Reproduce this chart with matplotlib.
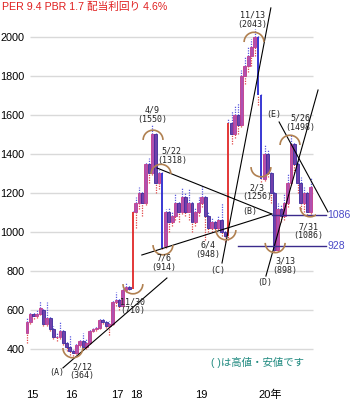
import matplotlib.pyplot as plt
from matplotlib.patches import Arc

plt.rcParams['font.family'] = ['Liberation Sans', 'Noto Sans CJK JP']

# ローソク足 (始値, 高値, 安値, 終値)
opens = [480, 540, 580, 570, 580, 600, 530, 560, 500, 460, 460, 490, 430, 410, 390, 380, 420, 440, 410, 430,
         490, 500, 510, 550, 540, 520, 530, 640, 650, 620, 700, 720, 710,
         1100, 1150, 1200, 1150, 1350, 1300, 1500, 1250, 1300, 930, 1100, 1050, 1080, 1150, 1100, 1180, 1100, 1150, 1050,
         1100, 1150, 1180, 1080, 1020, 1050, 1020, 1060, 1000, 980, 1560, 1500, 1600, 1550, 1800, 1850, 1900, 1950, 2000, 1700,
         1270, 1400, 1300, 1200, 910, 1120, 1080, 1150, 1250, 1450, 1350, 1250, 1150, 1200, 1100]
highs = [560, 590, 590, 600, 645, 610, 640, 570, 520, 480, 540, 500, 440, 470, 400, 430, 450, 480, 450, 500,
         510, 520, 560, 560, 550, 545, 650, 690, 660, 720, 740, 730, 1110,
         1180, 1230, 1210, 1360, 1380, 1550, 1510, 1318, 1310, 1120, 1130, 1100, 1200, 1160, 1230, 1200, 1220, 1160, 1130,
         1180, 1240, 1190, 1100, 1070, 1060, 1080, 1150, 1010, 1580, 1620, 1650, 1660, 1830, 1900, 1950, 1990, 2043, 2010, 1710,
         1450, 1420, 1310, 1210, 1150, 1140, 1200, 1300, 1498, 1460, 1380, 1280, 1230, 1210, 1280]
lows = [430, 530, 555, 560, 575, 520, 520, 490, 450, 440, 450, 420, 390, 370, 364, 375, 410, 400, 400, 425,
        485, 490, 500, 530, 510, 470, 525, 620, 600, 615, 690, 700, 710,
        1020, 1120, 1080, 1140, 1250, 1290, 1200, 1220, 914, 920, 1000, 1030, 1060, 1050, 1090, 1080, 1060, 1000, 1030,
        1080, 1130, 960, 1000, 1000, 1000, 1010, 980, 948, 960, 1450, 1480, 1500, 1540, 1760, 1820, 1850, 1900, 1650, 1256,
        1260, 1280, 1150, 898, 905, 1050, 1060, 1130, 1240, 1300, 1200, 1120, 1100, 1086, 1090]
closes = [540, 580, 570, 580, 610, 530, 560, 500, 460, 460, 490, 430, 410, 390, 380, 420, 440, 410, 430, 490,
          500, 510, 550, 540, 520, 530, 640, 650, 620, 700, 720, 710, 1100,
          1150, 1200, 1150, 1350, 1300, 1500, 1250, 1300, 920, 1100, 1050, 1080, 1150, 1100, 1180, 1100, 1150, 1050, 1100,
          1150, 1180, 1080, 1020, 1050, 1020, 1060, 1000, 980, 1560, 1500, 1600, 1550, 1800, 1850, 1900, 1950, 2000, 1700, 1270,
          1400, 1300, 1200, 910, 1120, 1080, 1150, 1250, 1450, 1350, 1250, 1150, 1200, 1100, 1230]

year_pos = [-0.3, 11.5, 25.5, 31.3, 50.9, 70.0]
year_labels = ['15', '16', '17', '18', '19', '20年']
price_ticks = [400, 600, 800, 1000, 1200, 1400, 1600, 1800, 2000]

# 高値・安値の注記 (x, y, 文字)
notes_x = [37.9, 43.9, 41.5, 32.1, 16.7, 54.8, 68.2, 69.7, 78.2, 82.7, 85.2]
notes_y = [1600, 1390, 841, 620, 287, 908, 2087, 1205, 826, 1559, 1005]
notes = ['4/9\n(1550)', '5/22\n(1318)', '7/6\n(914)', '11/30\n(710)', '2/12\n(364)', '6/4\n(948)',
         '11/13\n(2043)', '2/3\n(1256)', '3/13\n(898)', '5/26\n(1498)', '7/31\n(1086)']

# 半円 (中心x, 中心y, 上向き=True)
arc_x = [38.2, 40.6, 41.2, 32.1, 13.9, 60.3, 68.8, 70.9, 75.2, 79.7, 85.8]
arc_y = [1472, 1297, 933, 733, 405, 1010, 1974, 1333, 944, 1446, 1128]
arc_top = [True, True, False, False, False, False, True, False, False, True, False]

# トレンドライン
lines_x = [(10.9, 42.4), (39.4, 74.2), (34.8, 74.2), (59.1, 73.9), (72.4, 88.2), (76.4, 91.2)]
lines_y = [(303, 764), (1328, 1092), (882, 1092), (841, 2149), (774, 1728), (1564, 1103)]

marks = ['(A)', '(B)', '(C)', '(D)', '(E)']
marks_x = [9.1, 67.6, 57.9, 72.1, 74.8]
marks_y = [277, 1103, 805, 739, 1600]

levels = [1086, 928]
levels_from = [74.2, 63.9]
level_end = 90.6

fig = plt.figure(figsize=(3.5, 4), dpi=100)
ax = fig.add_axes([26 / 350, 20 / 400, 290 / 350, 360 / 400])
ax.set_xlim(-0.3, 87.58)
ax.set_ylim(241, 2087)

ax.hlines(price_ticks, 0.9, 86.7, color='#d9d9d9', lw=1, zorder=0)

for i in range(len(closes)):
    o, h, l, c = opens[i], highs[i], lows[i], closes[i]
    lo, hi = min(o, c), max(o, c)
    ax.vlines(i, hi, h, color='#5a5ae0', lw=0.9, linestyles=(0, (1, 1)), zorder=1, clip_on=False)
    ax.vlines(i, l, lo, color='#e04848', lw=0.9, linestyles=(0, (1, 1)), zorder=1, clip_on=False)
    if abs(c - o) >= 300:
        ax.vlines(i, lo, hi, color='#e02828' if c > o else '#2a2ad0', lw=1.3, zorder=2)
    elif c >= o:
        ax.bar(i, hi - lo, bottom=lo, width=0.9, color='#b050b0', edgecolor='#c03a8a', lw=0.6, zorder=2,
               clip_on=False)
    else:
        ax.bar(i, hi - lo, bottom=lo, width=0.9, color='#7040ac', edgecolor='#3a2a9a', lw=0.6, zorder=2,
               clip_on=False)

for (x0, x1), (y0, y1) in zip(lines_x, lines_y):
    ax.plot([x0, x1], [y0, y1], color='black', lw=0.8, clip_on=False, zorder=3)

for lv, x0 in zip(levels, levels_from):
    ax.plot([x0, level_end], [lv, lv], color='#3a2a8c', lw=1.0, clip_on=False, zorder=3)
    ax.text(level_end + 0.4, lv, str(lv), color='#4a4ac8', fontsize=7.5, va='center', ha='left')

for x, y, top in zip(arc_x, arc_y, arc_top):
    t1, t2 = (0, 180) if top else (180, 360)
    ax.add_patch(Arc((x, y), 6.0, 100, theta1=t1, theta2=t2, color='#b08050', lw=1.2, zorder=4))

for x, y, s in zip(notes_x, notes_y, notes):
    ax.text(x, y, s, fontsize=6, family='DejaVu Sans Mono', color='#222222', ha='center', va='center',
            linespacing=1.0, clip_on=False, zorder=5)

for x, y, s in zip(marks_x, marks_y, marks):
    ax.text(x, y, s, fontsize=6, family='DejaVu Sans Mono', color='#222222', ha='center', va='center', zorder=5)

ax.text(70, 333, '( )は高値・安値です', color='#208a80', fontsize=7.5, ha='center', va='center')

ax.set_yticks(price_ticks)
ax.set_yticklabels([str(p) for p in price_ticks], fontsize=7.8)
ax.set_xticks(year_pos)
ax.set_xticklabels(year_labels, fontsize=8)
for lab in ax.get_xticklabels():
    lab.set_ha('left')
ax.tick_params(axis='both', length=0)
ax.tick_params(axis='y', pad=1)
ax.tick_params(axis='x', pad=7)
for sp in ax.spines.values():
    sp.set_visible(False)

fig.text(2 / 350, 1 - 7 / 400, 'PER 9.4 PBR 1.7 配当利回り 4.6%', color='#e02020', fontsize=7.7,
         ha='left', va='center')

fig.savefig('out.png', dpi=100, facecolor='white')
